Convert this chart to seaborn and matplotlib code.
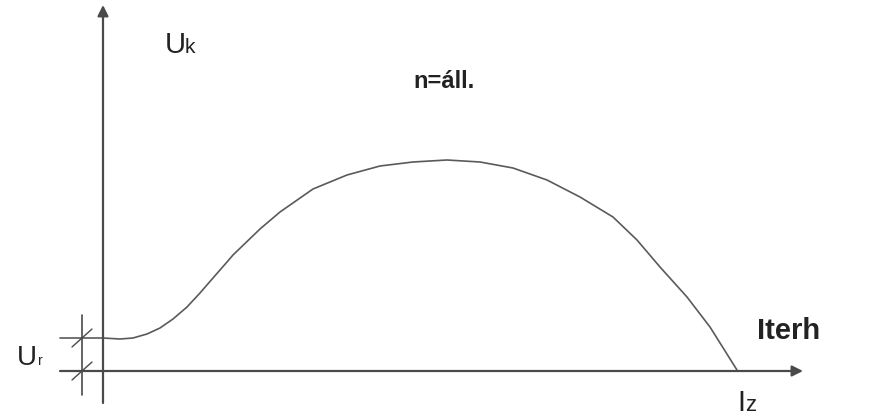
import matplotlib
matplotlib.use("Agg")
import matplotlib.pyplot as plt
import seaborn as sns
import pandas as pd

# Terminal voltage vs. load current characteristic (n = const.)
iterh = [-43, 0, 17, 30, 44, 57, 70, 84, 97, 110, 124, 130, 157, 177, 210,
         244, 277, 310, 344, 377, 410, 444, 477, 510, 534, 557, 584, 607, 634]
uk = [33, 33, 32, 33, 37, 43, 52, 64, 78, 93, 109, 116, 142, 159, 182,
      196, 205, 209, 211, 209, 203, 191, 174, 154, 131, 104, 74, 44, 1]

ur_level = 33      # remanent voltage level
iz_value = 634     # short-circuit current

sns.set_theme(style="white")
plt.rcParams["font.family"] = ["Liberation Sans", "DejaVu Sans"]

fig = plt.figure(figsize=(8.69, 4.19), dpi=100)
ax = fig.add_axes([0, 0, 1, 1])
ax.set_xlim(-103, 766)
ax.set_ylim(-48, 371)
ax.axis("off")

df = pd.DataFrame({"Iterh": iterh, "Uk": uk})
sns.lineplot(data=df, x="Iterh", y="Uk", ax=ax, color="#5a5a5a", lw=1.2,
             sort=False, estimator=None)

axis_col = "#4a4a4a"
arrow = dict(arrowstyle="-|>", color=axis_col, lw=1.6, mutation_scale=16,
             shrinkA=0, shrinkB=0)
ax.annotate("", xy=(0, 366), xytext=(0, -32), arrowprops=arrow)
ax.annotate("", xy=(700, 0), xytext=(-43, 0), arrowprops=arrow)

# dimension marker for U_r
ax.plot([-21, -21], [-24, 56], color=axis_col, lw=1.2)
for yy in (0, ur_level):
    ax.plot([-31, -11], [yy - 9, yy + 9], color=axis_col, lw=1.0)

txt = dict(color="#222222", va="baseline", ha="left")
ax.text(62, 318, "U", fontsize=21, **txt)
ax.text(82, 318, "k", fontsize=15, **txt)
ax.text(310, 283, "n=áll.", fontsize=17, fontweight="bold", **txt)
ax.text(654, 32, "Iterh", fontsize=21, fontweight="bold", **txt)
ax.text(iz_value, -40, "I", fontsize=21, **txt)
ax.text(iz_value + 8, -40, "z", fontsize=16, **txt)
ax.text(-86, 6, "U", fontsize=20, **txt)
ax.text(-65, 6, "r", fontsize=10, **txt)

fig.savefig("out.png", dpi=100, facecolor="white")
